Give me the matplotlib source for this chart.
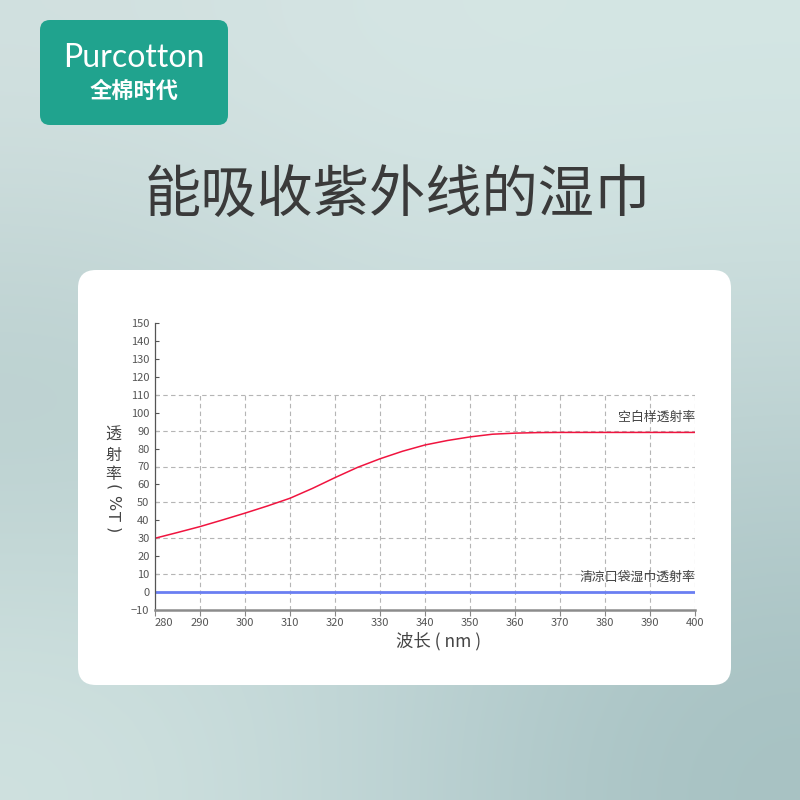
import matplotlib.pyplot as plt
import numpy as np
from matplotlib.patches import FancyBboxPatch

plt.rcParams['font.family'] = ['Noto Sans CJK SC', 'DejaVu Sans']

# data
wavelength = [280, 285, 290, 295, 300, 305, 310, 315, 320, 325, 330, 335, 340,
              345, 350, 355, 360, 365, 370, 380, 390, 400]
blank_T = [30, 33.2, 36.5, 40.2, 44, 48, 52.3, 57.8, 63.8, 69.5, 74.3, 78.5, 82,
           84.5, 86.5, 88, 88.6, 88.9, 89, 89, 89, 89]
wipe_T = [0] * len(wavelength)

x_ticks = list(range(280, 401, 10))
y_ticks = list(range(-10, 151, 10))
grid_x = list(range(290, 401, 10))
grid_y = list(range(10, 111, 20))

title = "能吸收紫外线的湿巾"
label_blank = "空白样透射率"
label_wipe = "清凉口袋湿巾透射率"

fig = plt.figure(figsize=(8, 8), dpi=100)

# background in pixel coordinates
bg = fig.add_axes([0, 0, 1, 1])
bg.set_xlim(0, 800)
bg.set_ylim(800, 0)
bg.axis('off')

ctrl = np.array([
    [[0xd2, 0xe1, 0xe0], [0xd6, 0xe6, 0xe5], [0xd4, 0xe6, 0xe4]],
    [[0xb4, 0xcb, 0xcb], [0xc6, 0xd9, 0xd9], [0xc0, 0xd4, 0xd4]],
    [[0xd0, 0xe2, 0xe0], [0xbd, 0xd3, 0xd4], [0xa6, 0xc1, 0xc2]],
]) / 255.0
bg.imshow(ctrl, extent=[0, 800, 800, 0], interpolation='bicubic', aspect='auto')

# logo
bg.add_patch(FancyBboxPatch((50, 30), 168, 85, boxstyle="round,pad=10,rounding_size=10",
                            fc='#20a38e', ec='none'))
bg.text(134, 58, "Purcotton", color='white', fontsize=23, ha='center', va='center',
        family=['Lato', 'DejaVu Sans'])
bg.text(134, 91, "全棉时代", color='white', fontsize=16, ha='center', va='center',
        fontweight='bold')

bg.text(398, 196, title, color='#3a3a3a', fontsize=40.5, ha='center', va='center',
        fontweight='medium')

# white card
bg.add_patch(FancyBboxPatch((96, 288), 617, 379, boxstyle="round,pad=18,rounding_size=18",
                            fc='white', ec='none'))

# y label (upright characters + rotated unit)
for i, ch in enumerate("透射率"):
    bg.text(113, 435 + i * 20, ch, color='#444444', fontsize=11.5, ha='center', va='center')
for ch, yy in zip(["(", "%", "T", ")"], [487, 503, 516, 530]):
    bg.text(113, yy, ch, color='#444444', fontsize=11.5, ha='center', va='center',
            rotation=270, family=['DejaVu Sans'])

# x label
bg.text(439, 641, "波长 ( nm )", color='#444444', fontsize=12.5, ha='center', va='center')

ax = fig.add_axes([155 / 800, 1 - 610 / 800, 540 / 800, 287 / 800])
ax.patch.set_alpha(0)
ax.set_xlim(280, 400)
ax.set_ylim(-10, 150)

ax.vlines(grid_x, -10, 110, colors='#b5b5b5', linestyles=(0, (4, 3)), linewidth=0.8)
ax.hlines(grid_y, 280, 400, colors='#b5b5b5', linestyles=(0, (4, 3)), linewidth=0.8)

ax.plot(wavelength, wipe_T, color='#6a7ff2', linewidth=2, solid_capstyle='butt')
ax.plot(wavelength, blank_T, color='#f0143f', linewidth=1.1)

ax.text(400, 97.5, label_blank, color='#444444', fontsize=9.3, ha='right', va='center')
ax.text(400, 8.5, label_wipe, color='#444444', fontsize=9.3, ha='right', va='center')

ax.set_xticks(x_ticks)
ax.set_yticks(y_ticks)
ax.tick_params(axis='y', direction='in', length=3, width=0.8, color='#555555',
               labelsize=8, labelcolor='#555555', pad=4)
ax.tick_params(axis='x', direction='out', length=4, width=0.8, color='#888888',
               labelsize=8, labelcolor='#555555', pad=1.5)
ax.get_xticklabels()[0].set_horizontalalignment('left')

for side in ['top', 'right']:
    ax.spines[side].set_visible(False)
ax.spines['left'].set_color('#555555')
ax.spines['left'].set_linewidth(0.9)
ax.spines['bottom'].set_color('#8c8c8c')
ax.spines['bottom'].set_linewidth(1.8)

fig.savefig("out.png", dpi=100)
